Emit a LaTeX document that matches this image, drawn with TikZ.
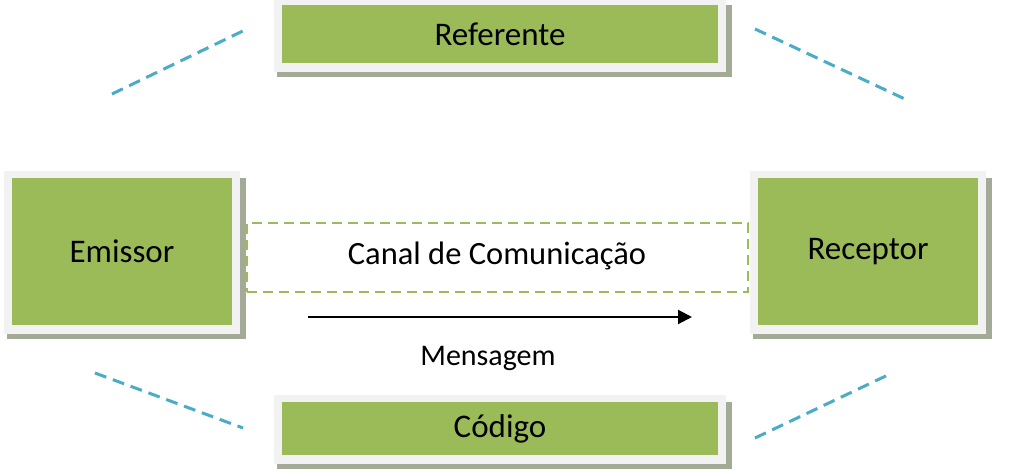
\documentclass[tikz,border=0pt]{standalone}
\usepackage{fontspec}
\setmainfont{Carlito}
\usetikzlibrary{arrows.meta,backgrounds}
\definecolor{boxgreen}{HTML}{9BBB59}
\definecolor{framegray}{HTML}{F2F2F2}
\definecolor{shadowgray}{HTML}{A3AA95}
\definecolor{linkblue}{HTML}{4BACC6}
\tikzset{
  greenbox/.style={fill=boxgreen, inner sep=0pt, font=\fontsize{33}{38}\selectfont, text=black},
  canalbox/.style={draw=boxgreen, line width=2pt, dash pattern=on 10pt off 6pt, inner sep=0pt},
  linkline/.style={draw=linkblue, line width=3pt, dash pattern=on 12pt off 7pt},
  msgarrow/.style={draw=black, line width=2pt, -{Triangle[length=14pt,width=14pt]}},
  labeltext/.style={font=\fontsize{30}{36}\selectfont, inner sep=0pt},
}
\begin{document}
\begin{tikzpicture}[x=1pt,y=-1pt]
\useasboundingbox (0,0) rectangle (1036,476);
% boxes
\node[greenbox, minimum width=436pt, minimum height=58pt] (ref) at (500,34) {Referente};
\node[greenbox, minimum width=436pt, minimum height=53pt] (cod) at (500,428.5) {Código};
\node[greenbox, minimum width=220pt, minimum height=147pt] (emi) at (122,251.5) {Emissor};
\node[greenbox, minimum width=220pt, minimum height=147pt] (rec) at (868,251.5) {Receptor};
% channel
\node[canalbox, minimum width=501pt, minimum height=69pt] (canal) at (497.5,257.5) {};
\node[labeltext, font=\fontsize{32.5}{38}\selectfont] (canaltxt) at (497,256) {Canal de Comunicação};
% message
\coordinate (ms) at (308,317);
\coordinate (me) at (692,317);
\draw[msgarrow] (ms) -- (me);
\node[labeltext] (msg) at (488,358) {Mensagem};
% blue dashed links
\coordinate (tl1) at (112,94);  \coordinate (tl2) at (247,29);
\coordinate (tr1) at (755,29);  \coordinate (tr2) at (907,100);
\coordinate (bl1) at (95,373);  \coordinate (bl2) at (243,428);
\coordinate (br1) at (755,438); \coordinate (br2) at (890,374);
\draw[linkline] (tl1) -- (tl2);
\draw[linkline] (tr1) -- (tr2);
\draw[linkline] (bl1) -- (bl2);
\draw[linkline] (br1) -- (br2);
% frames and shadows
\begin{scope}[on background layer]
  \fill[white] (0,0) rectangle (1036,476);
  \foreach \n in {ref,cod,emi,rec} {
    \fill[shadowgray] ([shift={(-5,0)}]\n.north west) rectangle ([shift={(14,14)}]\n.south east);
    \fill[framegray] ([shift={(-8,-7)}]\n.north west) rectangle ([shift={(8,9)}]\n.south east);
  }
\end{scope}
\end{tikzpicture}
\end{document}
